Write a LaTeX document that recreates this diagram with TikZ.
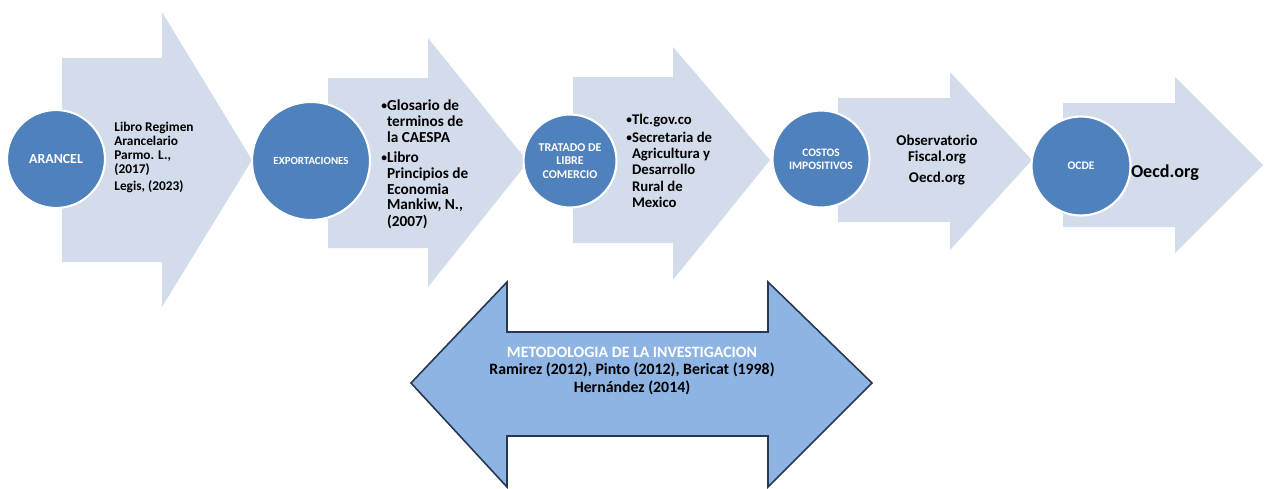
\documentclass[tikz,border=0pt]{standalone}
\usepackage{fontspec}
\setmainfont{Carlito}
\definecolor{flowfill}{RGB}{211,220,235}
\definecolor{stagefill}{RGB}{79,129,189}
\definecolor{methfill}{RGB}{142,180,227}
\definecolor{methline}{RGB}{40,55,80}
\newcommand{\flowarrow}[8]{%
  % #1 left, #2 head base, #3 tip, #4 body top, #5 body bottom, #6 head top, #7 head bottom, #8 tip y
  \fill[flowfill] (#1,#4) -- (#2,#4) -- (#2,#6) -- (#3,#8) -- (#2,#7) -- (#2,#5) -- (#1,#5) -- cycle;}
\newcommand{\blt}{{\fontsize{6.5}{6.5}\selectfont\raisebox{0.5pt}{\textbullet}}}
\newcommand{\fs}[2]{\fontsize{#1}{#2}\selectfont\bfseries}
\begin{document}
\begin{tikzpicture}[x=0.02cm,y=-0.02cm,
    stage/.style={circle,fill=stagefill,draw=white,line width=1.2pt,
      text=white,align=center,inner sep=0pt},
    reftext/.style={align=left,inner sep=0pt,anchor=north west},
    tight/.style={inner sep=0pt}]

    \useasboundingbox (0,0) rectangle (1265,488);

    % Define flow arrows
    \flowarrow{62}{162}{252}{58}{262}{12}{307}{160}
    \flowarrow{328}{428}{528}{78}{248}{38}{287}{162}
    \flowarrow{573}{673}{770}{77}{243}{47}{280}{160}
    \flowarrow{838}{950}{1032}{98}{222}{72}{250}{160}
    \flowarrow{1063}{1175}{1263}{103}{227}{77}{253}{165}

    % Define stages
    \node[stage,minimum size=1.96cm,font=\fs{7.9}{9}] (arancel) at (56,159) {ARANCEL};
    \node[stage,minimum size=2.36cm,font=\fs{6.2}{7}] (export) at (311,161) {EXPORTACIONES};
    \node[stage,minimum size=1.86cm,font=\fs{6.8}{7.7}] (tlc) at (570,161) {TRATADO DE\\LIBRE\\COMERCIO};
    \node[stage,minimum size=1.94cm,font=\fs{6.5}{7.4}] (costos) at (821,159) {COSTOS\\IMPOSITIVOS};
    \node[stage,minimum size=1.98cm,font=\fs{6.6}{7.4}] (ocde) at (1081,166) {OCDE};

    % Define references
    \node[reftext,font=\fs{7.6}{8}] (ref1) at (114,122)
      {Libro Regimen\\Arancelario\\Parmo. L.,\\(2017)\\[1.5pt]Legis, (2023)};
    \node[reftext,font=\fs{8.7}{9.1}] (ref2) at (381,99)
      {\begin{tabular}{@{}l@{}l@{}}\blt&Glosario de\\&terminos de\\&la CAESPA\\[2pt]
       \blt&Libro\\&Principios de\\&Economia\\&Mankiw, N.,\\&(2007)\end{tabular}};
    \node[reftext,font=\fs{8.4}{9.3}] (ref3) at (626,113)
      {\begin{tabular}{@{}l@{}l@{}}\blt&Tlc.gov.co\\[0.5pt]
       \blt&Secretaria de\\&Agricultura y\\&Desarrollo\\&Rural de\\&Mexico\end{tabular}};
    \node[tight,font=\fs{8.5}{9.1},align=center] (ref4) at (937,160)
      {Observatorio\\Fiscal.org\\[3pt]Oecd.org};
    \node[tight,font=\fs{10.3}{11}] (ref5) at (1165,173) {Oecd.org};

    % Define methodology arrow
    \draw[fill=methfill,draw=methline,line width=0.9pt]
      (411,383) -- (507,282) -- (507,332) -- (768,332) -- (768,282) -- (872,383)
      -- (768,487) -- (768,436) -- (507,436) -- (507,487) -- cycle;
    \node[tight,font=\fs{9}{10},align=center] (metodo) at (632,371)
      {\textcolor{white}{METODOLOGIA DE LA INVESTIGACION}\\
       Ramirez (2012), Pinto (2012), Bericat (1998)\\Hernández (2014)};

\end{tikzpicture}
\end{document}
